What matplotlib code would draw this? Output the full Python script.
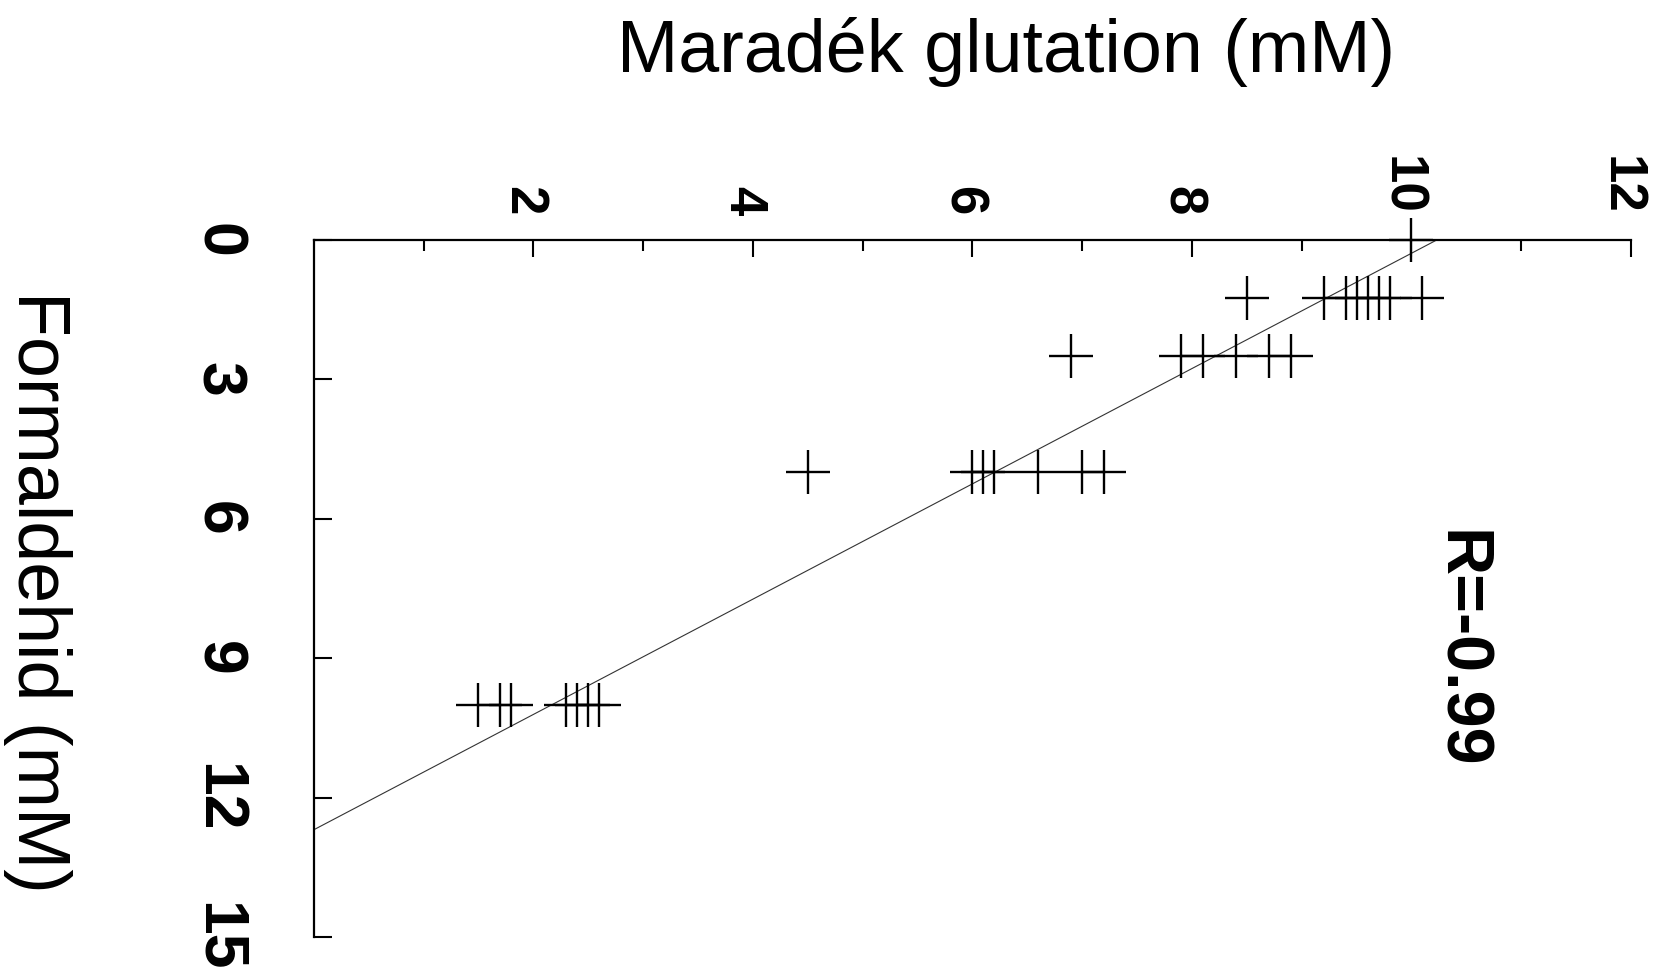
import matplotlib
matplotlib.use("Agg")
import matplotlib.pyplot as plt
import matplotlib.transforms as mtransforms
import numpy as np

plt.rcParams['font.family'] = ['Liberation Sans', 'DejaVu Sans']

# Formaldehyde concentrations (mM) and residual glutathione (mM) measured at each
formaldehid_levels = [0.0, 1.25, 2.5, 5.0, 10.0]
glutation_f0 = [10.0]
glutation_f1 = [8.5, 9.2, 9.4, 9.5, 9.6, 9.7, 9.8, 10.1]
glutation_f2 = [6.9, 7.9, 8.1, 8.4, 8.7, 8.9]
glutation_f3 = [4.5, 6.0, 6.1, 6.2, 6.6, 7.0, 7.2]
glutation_f4 = [1.5, 1.7, 1.8, 2.3, 2.4, 2.5, 2.6]

# Linear fit: glutation = intercept + slope * formaldehid
fit_intercept = 10.23
fit_slope = -0.806
r_label = "R=-0.99"

x_ticks = [2, 4, 6, 8, 10, 12]
x_minor = [1, 3, 5, 7, 9, 11]
y_ticks = [0, 3, 6, 9, 12, 15]

groups = [glutation_f0, glutation_f1, glutation_f2, glutation_f3, glutation_f4]
glut = np.concatenate([np.asarray(g, float) for g in groups])
form = np.concatenate([np.full(len(g), f) for f, g in zip(formaldehid_levels, groups)])

W, H = 1658, 976
fig = plt.figure(figsize=(W / 100, H / 100), dpi=100)
ax = fig.add_axes([313.8 / W, 39 / H, (1631 - 313.8) / W, 697 / H])

ax.set_xlim(0, 12)
ax.set_ylim(15, 0)

# regression line, from formaldehid = 0 down to where glutation reaches zero
f_end = -fit_intercept / fit_slope
f_line = np.array([0.0, f_end])
ax.plot(fit_intercept + fit_slope * f_line, f_line, color='#333333', lw=0.8,
        clip_on=False, zorder=2)

ax.plot(glut, form, linestyle='none', marker='+', markersize=31,
        markeredgewidth=1.7, color='black', clip_on=False, zorder=3)

for side in ('right', 'bottom'):
    ax.spines[side].set_visible(False)
for side in ('top', 'left'):
    ax.spines[side].set_linewidth(1.6)

ax.xaxis.tick_top()
ax.set_xticks(x_ticks)
ax.set_xticks(x_minor, minor=True)
ax.set_yticks(y_ticks)
ax.tick_params(axis='x', which='major', direction='in', length=12, width=1.5,
               pad=18, labelsize=38, labelrotation=-90)
ax.tick_params(axis='x', which='minor', direction='in', length=8, width=1.5)
ax.tick_params(axis='y', which='major', direction='in', length=13, width=1.5,
               pad=48, labelsize=45, labelrotation=-90)

# nudge the rotated top labels so the digits sit centred on their ticks
shift = mtransforms.ScaledTranslation(-0.10, 0, fig.dpi_scale_trans)
for lbl in ax.get_xticklabels():
    lbl.set_fontweight('bold')
    lbl.set_transform(lbl.get_transform() + shift)
for lbl in ax.get_yticklabels():
    lbl.set_fontweight('bold')
    lbl.set_verticalalignment('center')

ax.text(10.43, 8.81, r_label, rotation=-90, fontsize=48, fontweight='bold',
        ha='center', va='center')

fig.text(1006 / W, 1 - 72 / H, "Maradék glutation (mM)", fontsize=53,
         ha='center', va='baseline')
fig.text(18 / W, 1 - 592 / H, "Formaldehid (mM)", fontsize=53, rotation=-90,
         rotation_mode='anchor', ha='center', va='baseline')

fig.savefig('out.png', dpi=100, facecolor='white')
